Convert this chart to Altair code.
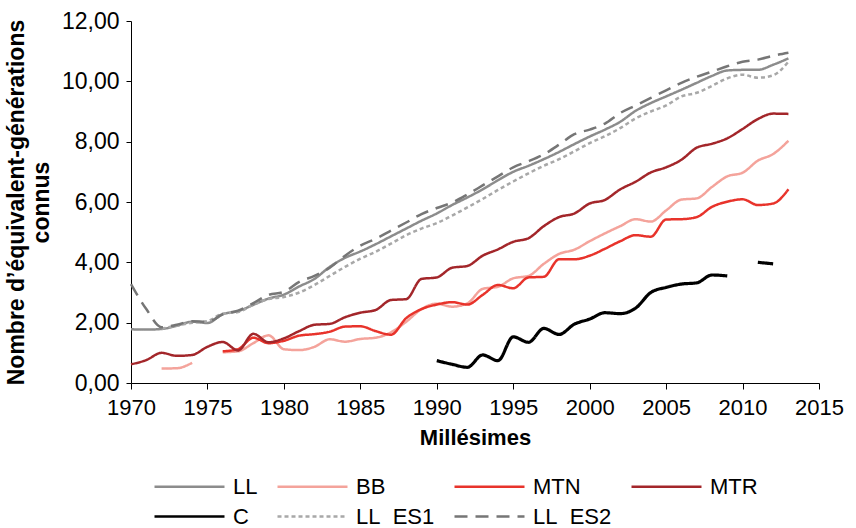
import altair as alt
import pandas as pd

years = list(range(1970, 2014))

ll = [1.78, 1.77, 1.79, 1.90, 2.03, 1.99, 2.28, 2.38, 2.59, 2.80,
      2.93, 3.20, 3.45, 3.85, 4.15, 4.36, 4.60, 4.86, 5.12, 5.38,
      5.62, 5.90, 6.15, 6.42, 6.72, 7.00, 7.20, 7.42, 7.66, 7.92,
      8.17, 8.40, 8.66, 9.02, 9.28, 9.50, 9.72, 9.95, 10.18, 10.36,
      10.38, 10.38, 10.55, 10.76]

bb = [None, None, 0.48, 0.49, 0.67, None, 1.02, 1.05, 1.32, 1.58,
      1.12, 1.09, 1.20, 1.45, 1.37, 1.46, 1.50, 1.68, 2.03, 2.45,
      2.63, 2.53, 2.64, 3.12, 3.19, 3.47, 3.55, 3.95, 4.28, 4.42,
      4.70, 4.96, 5.20, 5.43, 5.35, 5.72, 6.08, 6.12, 6.50, 6.85,
      6.97, 7.37, 7.59, 8.03]

mtn = [None, None, None, None, None, None, 1.05, 1.12, 1.50, 1.32,
       1.40, 1.57, 1.62, 1.70, 1.87, 1.88, 1.72, 1.60, 2.15, 2.45,
       2.60, 2.68, 2.60, 2.92, 3.25, 3.14, 3.50, 3.52, 4.10, 4.10,
       4.22, 4.45, 4.70, 4.90, 4.85, 5.42, 5.43, 5.50, 5.84, 6.01,
       6.09, 5.90, 5.95, 6.42]

mtr = [0.62, 0.76, 1.00, 0.90, 0.93, 1.20, 1.36, 1.08, 1.63, 1.35,
       1.48, 1.72, 1.93, 1.96, 2.18, 2.33, 2.42, 2.75, 2.78, 3.45,
       3.50, 3.82, 3.88, 4.22, 4.43, 4.68, 4.80, 5.20, 5.50, 5.62,
       5.95, 6.07, 6.42, 6.67, 6.98, 7.15, 7.40, 7.80, 7.93, 8.11,
       8.42, 8.75, 8.93, 8.92]

c = [None, None, None, None, None, None, None, None, None, None,
     None, None, None, None, None, None, None, None, None, None,
     0.74, 0.62, 0.52, 0.93, 0.74, 1.53, 1.35, 1.81, 1.61, 1.95,
     2.12, 2.33, 2.30, 2.48, 3.00, 3.17, 3.28, 3.32, 3.58, 3.55,
     None, 4.00, 3.95, None]

ll_es1 = [None, None, 1.80, 1.90, 2.00, 2.05, 2.30, 2.35, 2.60, 2.78,
          2.85, 3.00, 3.25, 3.55, 3.85, 4.12, 4.35, 4.62, 4.90, 5.12,
          5.30, 5.55, 5.82, 6.10, 6.40, 6.68, 6.95, 7.20, 7.42, 7.68,
          7.95, 8.18, 8.45, 8.77, 9.00, 9.20, 9.50, 9.62, 9.85, 10.10,
          10.22, 10.12, 10.20, 10.65]

ll_es2 = [3.28, 2.45, 1.85, 1.93, 2.05, 2.02, 2.28, 2.40, 2.65, 2.92,
          3.02, 3.35, 3.55, 3.82, 4.22, 4.55, 4.78, 5.05, 5.32, 5.60,
          5.80, 5.98, 6.25, 6.55, 6.85, 7.15, 7.35, 7.58, 7.90, 8.25,
          8.40, 8.60, 8.95, 9.20, 9.45, 9.70, 9.95, 10.15, 10.32, 10.50,
          10.65, 10.72, 10.85, 10.95]

names = ["LL", "BB", "MTN", "MTR", "C", "LL\u00a0\u00a0ES1", "LL\u00a0\u00a0ES2"]
values = [ll, bb, mtn, mtr, c, ll_es1, ll_es2]
colors = ["#8c8c8c", "#f4a39b", "#e8332b", "#a3262a", "#000000", "#a8a8a8", "#767676"]
dashes = [[1, 0], [1, 0], [1, 0], [1, 0], [1, 0], [4, 3], [13, 8]]
x_ticks = [1970, 1975, 1980, 1985, 1990, 1995, 2000, 2005, 2010, 2015]
y_ticks = [0, 2, 4, 6, 8, 10, 12]

rows = []
for name, vals in zip(names, values):
    seg = 0
    prev_none = True
    for yr, v in zip(years, vals):
        if v is None:
            if not prev_none:
                seg += 1
            prev_none = True
            continue
        prev_none = False
        rows.append({"year": yr, "value": v, "series": name, "seg": f"{name}-{seg}"})
df = pd.DataFrame(rows)

FONT = "Liberation Sans"

legend = alt.Legend(
    orient="none", direction="horizontal", legendX=12, legendY=454, columns=4, title=None,
    symbolType="M0,0H7", symbolSize=400, symbolStrokeWidth=2.5,
    labelFontSize=22, labelFont=FONT, labelColor="#000000", labelOffset=67,
    columnPadding=8, rowPadding=7, labelLimit=300,
)

color_scale = alt.Scale(domain=names, range=colors)
dash_scale = alt.Scale(domain=names, range=dashes)

x_enc = alt.X(
    "year:Q",
    scale=alt.Scale(domain=[1970, 2015], nice=False),
    axis=alt.Axis(
        values=x_ticks, format="d", title="Millésimes", grid=False,
        domainColor="#000000", tickColor="#000000", tickSize=6,
        labelFontSize=22, labelFont=FONT, labelColor="#000000", labelPadding=8,
        titleFontSize=22, titleFont=FONT, titleFontWeight="bold", titleColor="#000000",
        titlePadding=9, labelFlush=False,
    ),
)
y_enc = alt.Y(
    "value:Q",
    scale=alt.Scale(domain=[0, 12], nice=False),
    axis=alt.Axis(
        values=y_ticks, grid=False,
        labelExpr="replace(format(datum.value, '.2f'), '.', ',')",
        title=["Nombre d\u2019équivalent-générations", "connus"],
        domainColor="#000000", tickColor="#000000", tickSize=5,
        labelFontSize=23, labelFont=FONT, labelColor="#000000", labelPadding=7,
        titleFontSize=23, titleFont=FONT, titleFontWeight="bold", titleColor="#000000",
        titlePadding=8, labelFlush=False,
    ),
)

layers = []
for name in names:
    sw = 3.2 if name == "C" else 2.5
    layer = alt.Chart(df).transform_filter(
        alt.datum.series == name
    ).mark_line(interpolate="monotone", strokeWidth=sw).encode(
        x=x_enc,
        y=y_enc,
        color=alt.Color("series:N", scale=color_scale, legend=legend),
        strokeDash=alt.StrokeDash("series:N", scale=dash_scale, legend=legend),
        detail="seg:N",
    )
    layers.append(layer)

chart = alt.layer(*layers).properties(
    width=688, height=362,
    autosize=alt.AutoSizeParams(type="none"),
    padding={"left": 131, "top": 21, "right": 37, "bottom": 145},
    background="#ffffff",
).configure_view(stroke=None)

chart.save("out.html", embed_options={"renderer": "svg", "actions": False})
